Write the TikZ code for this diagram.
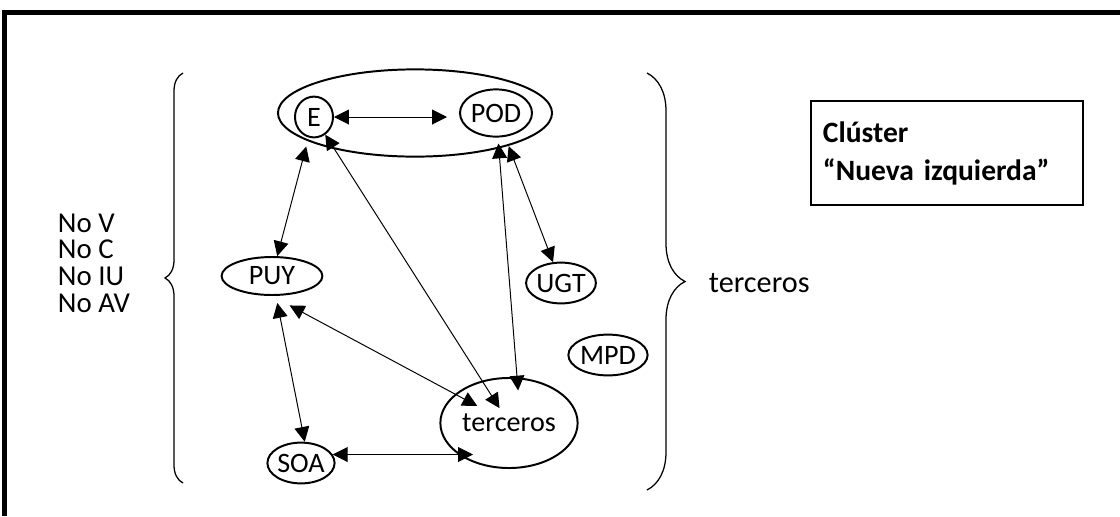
\documentclass[tikz,border=0pt]{standalone}
\usepackage{fontspec}
\setmainfont{Carlito}
\usetikzlibrary{shapes.geometric,arrows.meta,decorations.pathreplacing}

\begin{document}
\begin{tikzpicture}[x=0.025cm,y=-0.025cm,font=\fontsize{20}{24.4}\selectfont]

                \tikzset{party/.style = {shape=ellipse,draw,line width=1.4pt,inner sep=0pt}}
                \tikzset{edge/.style = {<->,> = {Triangle[length=0.37cm,width=0.37cm]},line width=0.7pt}}
                \tikzset{bracket/.style = {decorate,line width=0.9pt}}

                \useasboundingbox (0,0) rectangle (1120,516);
                \draw[line width=3.6pt] (4.5,516) -- (4.5,12.5) -- (1120,12.5);

                \node[party,minimum width=6.85cm,minimum height=2.18cm] (group) at (415,113) {};
                \node[party,minimum width=0.95cm,minimum height=1.02cm] (E) at (314,117) {E};
                \node[party,minimum width=1.8cm,minimum height=1.18cm] (POD) at (496,113) {POD};
                \node[party,minimum width=2.52cm,minimum height=0.95cm] (PUY) at (272,276) {PUY};
                \node[party,minimum width=1.6cm,minimum height=1.02cm] (UGT) at (561,283) {UGT};
                \node[party,minimum width=1.98cm,minimum height=1.02cm] (MPD) at (608,355) {MPD};
                \node[party,minimum width=1.65cm,minimum height=1.02cm] (SOA) at (301,463) {SOA};
                \node[party,minimum width=3.43cm,minimum height=2.25cm] (ter) at (509,423) {terceros};

                \node[align=left,anchor=west,font=\fontsize{20.5}{19}\selectfont] (nolist) at (53,263)
                      {No V\\No C\\No IU\\No AV};
                \node[anchor=west,font=\fontsize{21.5}{24}\selectfont] (thirds) at (704,283) {terceros};
                \node[draw,line width=1.4pt,minimum width=6.8cm,minimum height=2.62cm,text width=6.2cm,
                      align=left,font=\bfseries\fontsize{21}{27}\selectfont] (cluster) at (947,153)
                      {Clúster\\“Nueva izquierda”};

                \draw[bracket,decoration={brace,amplitude=0.45cm}] (183,483) -- (183,73);
                \draw[bracket,decoration={brace,amplitude=0.95cm}] (647,73) -- (647,490);

                \draw[edge,shorten >=0.3cm] (E) to (E -| POD.west);
                \draw[edge,shorten >=0.23cm] (PUY) to (E);
                \draw[edge,shorten >=0.44cm] (E) to (ter.center);

                \draw[edge,shorten <=0.15cm,shorten >=-0.33cm] (POD) to (ter.80);
                \draw[edge,shorten <=0.25cm] (POD) to (UGT);

                \draw[edge,shorten <=0.5cm,shorten >=0.9cm] (PUY.south) to (ter.center);
                \draw[edge,shorten <=0.18cm] (PUY) to (SOA.80);

                \draw[edge,shorten >=0.9cm] (SOA.15) to (SOA.15 -| ter.center);
            \end{tikzpicture}
\end{document}
